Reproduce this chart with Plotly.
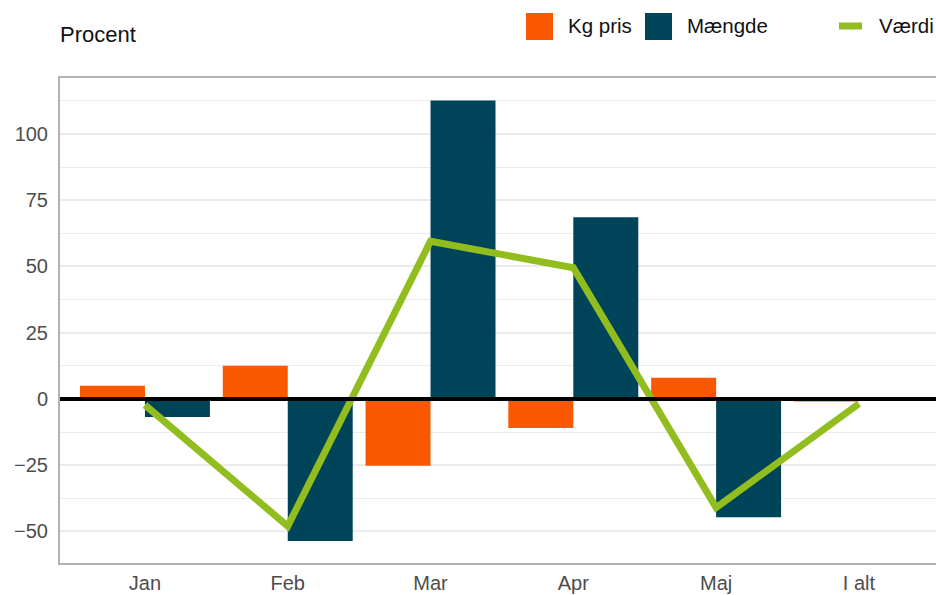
import plotly.graph_objects as go

categories = ["Jan", "Feb", "Mar", "Apr", "Maj", "I alt"]
kg_pris = [5, 12.5, -25.2, -11, 8, -1]
maengde = [-6.8, -53.6, 112.6, 68.6, -44.6, None]
vaerdi = [-2.3, -48, 59.5, 49.5, -41, -1.8]
y_ticks = [-50, -25, 0, 25, 50, 75, 100]

ORANGE = "#f95700"
DARK = "#00445a"
GREEN = "#92bd1f"
FONT = "Liberation Sans, Arial, sans-serif"

x = list(range(len(categories)))

fig = go.Figure()
fig.add_trace(go.Bar(x=x, y=kg_pris, name="Kg pris", marker_color=ORANGE,
                     marker_line_width=0, showlegend=False))
fig.add_trace(go.Bar(x=x, y=maengde, name="Mængde", marker_color=DARK,
                     marker_line_width=0, showlegend=False))
fig.add_trace(go.Scatter(x=x, y=vaerdi, name="Værdi", mode="lines",
                         line=dict(color=GREEN, width=7), showlegend=False))

W, H = 936, 595
L, R, T, B = 60, 0, 78, 32
pw, ph = W - L - R, H - T - B

def px(xp):
    return (xp - L) / pw

def py(yp):
    return (H - B - yp) / ph

shapes = [
    dict(type="line", xref="paper", yref="y", x0=0, x1=1, y0=0, y1=0,
         line=dict(color="black", width=4), layer="above"),
    # custom legend symbols
    dict(type="rect", xref="paper", yref="paper", x0=px(526), x1=px(553),
         y0=py(40), y1=py(13), fillcolor=ORANGE, line_width=0),
    dict(type="rect", xref="paper", yref="paper", x0=px(645), x1=px(672),
         y0=py(40), y1=py(13), fillcolor=DARK, line_width=0),
    dict(type="line", xref="paper", yref="paper", x0=px(839), x1=px(862),
         y0=py(26), y1=py(26), line=dict(color=GREEN, width=7)),
]

annotations = [
    dict(text="Procent", xref="paper", yref="paper", x=px(58), y=py(34),
         xanchor="left", yanchor="middle", showarrow=False,
         font=dict(size=22, color="#111111", family=FONT)),
    dict(text="Kg pris", xref="paper", yref="paper", x=px(566), y=py(25.5),
         xanchor="left", yanchor="middle", showarrow=False,
         font=dict(size=20.5, color="#111111", family=FONT)),
    dict(text="Mængde", xref="paper", yref="paper", x=px(685), y=py(25.5),
         xanchor="left", yanchor="middle", showarrow=False,
         font=dict(size=20.5, color="#111111", family=FONT)),
    dict(text="Værdi", xref="paper", yref="paper", x=px(877), y=py(25.5),
         xanchor="left", yanchor="middle", showarrow=False,
         font=dict(size=20.5, color="#111111", family=FONT)),
]

fig.update_layout(
    width=W, height=H,
    margin=dict(l=L, r=R, t=T, b=B, pad=0, autoexpand=False),
    paper_bgcolor="white", plot_bgcolor="white",
    barmode="group", bargap=0.09, bargroupgap=0,
    font=dict(family=FONT, size=20, color="#4d4d4d"),
    shapes=shapes, annotations=annotations,
    xaxis=dict(range=[-0.595, 5.54], tickvals=x, ticktext=categories,
               showgrid=False, zeroline=False, showline=True, mirror=True,
               linecolor="#b3b3b3", linewidth=2, ticks="", ticklen=0,
               ticklabelstandoff=1, automargin=False,
               tickfont=dict(size=20, color="#4d4d4d")),
    yaxis=dict(range=[-61.9, 121.1], tickvals=y_ticks,
               ticktext=[("\u2212" + str(-v)) if v < 0 else str(v) for v in y_ticks],
               showgrid=True, gridcolor="#ebebeb", gridwidth=2,
               minor=dict(dtick=12.5, tick0=0, showgrid=True, gridcolor="#ebebeb", gridwidth=1),
               zeroline=False, showline=True, linecolor="#b3b3b3", linewidth=2,
               ticks="", ticklen=0, ticklabelstandoff=6, automargin=False,
               tickfont=dict(size=20, color="#4d4d4d")),
)

fig.write_html("out.html", config={"displayModeBar": False},
               post_script="document.body.style.margin='0px';")
